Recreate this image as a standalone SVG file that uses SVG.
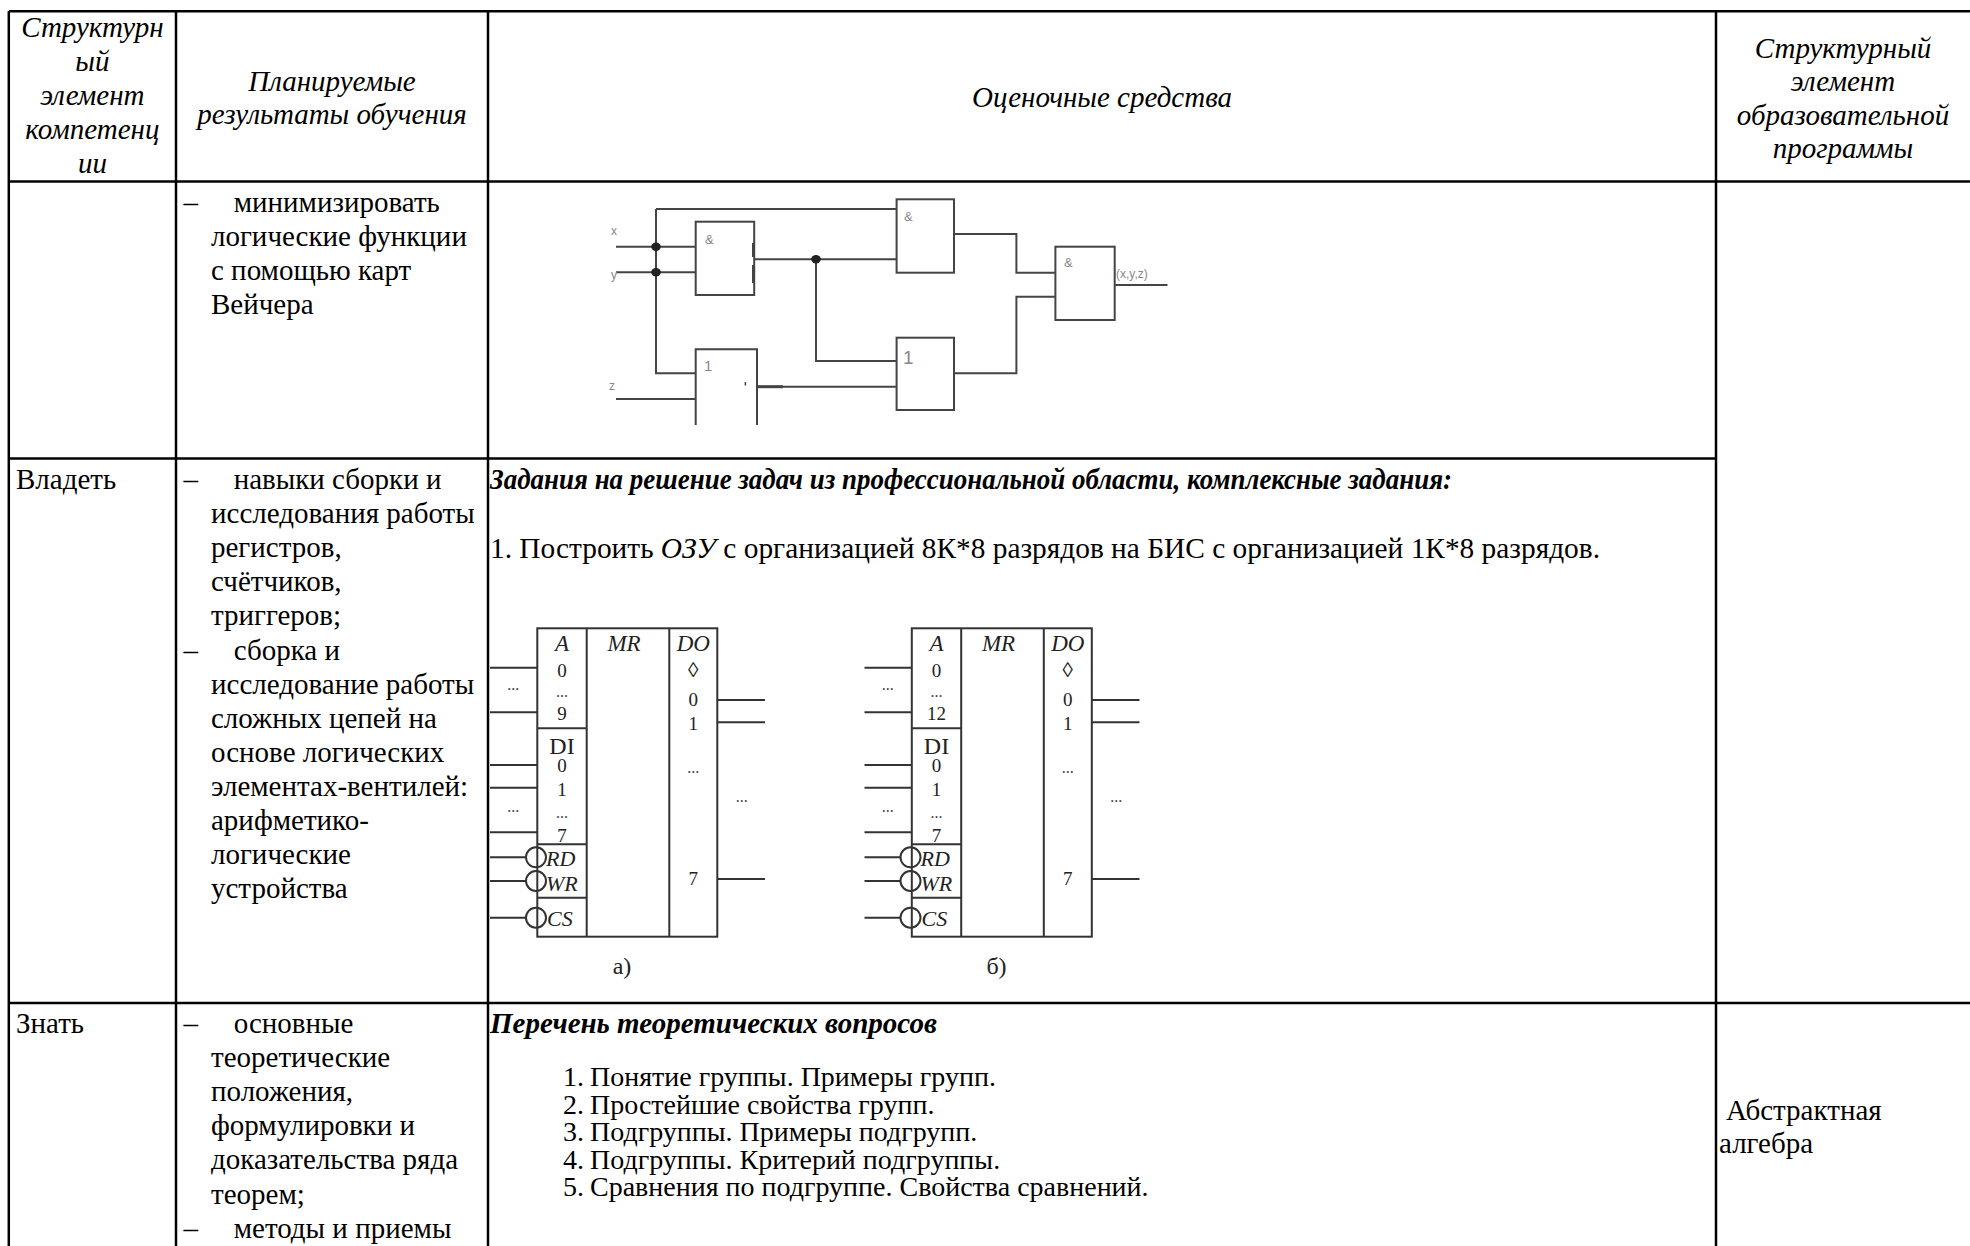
<svg xmlns="http://www.w3.org/2000/svg" width="1970" height="1246" viewBox="0 0 1970 1246">
<style>
.t{font-family:"Liberation Serif",serif;font-size:29px;fill:#000}
.i{font-style:italic}
.b{font-weight:bold}
.c{text-anchor:middle}
.li{font-size:28px}
.grid{stroke:#000;stroke-width:2.5;fill:none}
.w{stroke:#444;stroke-width:2;fill:none}
.lab{font-family:"Liberation Sans",sans-serif;fill:#888}
.ch{stroke:#333;stroke-width:2;fill:none}
.cs{font-family:"Liberation Serif",serif;fill:#222}
.d{font-size:19px}
.e{font-size:16px;fill:#444}
</style>
<rect width="1970" height="1246" fill="#fff"/>
<g id="table-grid" class="grid">
<line x1="8.8" y1="11.3" x2="1970" y2="11.3"/>
<line x1="8.8" y1="181.5" x2="1970" y2="181.5"/>
<line x1="8.8" y1="458.5" x2="1716" y2="458.5"/>
<line x1="8.8" y1="1003" x2="1970" y2="1003"/>
<line x1="8.8" y1="11.3" x2="8.8" y2="1246"/>
<line x1="176" y1="11.3" x2="176" y2="1246"/>
<line x1="488" y1="11.3" x2="488" y2="1246"/>
<line x1="1716" y1="11.3" x2="1716" y2="1246"/>
</g>
<g id="header">
<text class="t i c" x="92.4" y="37">Структурн</text>
<text class="t i c" x="92.4" y="71">ый</text>
<text class="t i c" x="92.4" y="105">элемент</text>
<text class="t i c" x="92.4" y="139">компетенц</text>
<text class="t i c" x="92.4" y="173">ии</text>
<text class="t i c" x="332" y="91">Планируемые</text>
<text class="t i c" x="332" y="124">результаты обучения</text>
<text class="t i c" x="1102" y="107">Оценочные средства</text>
<text class="t i c" x="1843" y="58">Структурный</text>
<text class="t i c" x="1843" y="91">элемент</text>
<text class="t i c" x="1843" y="124.5">образовательной</text>
<text class="t i c" x="1843" y="158">программы</text>
</g>
<g id="row-minimize">
<text class="t" x="183.5" y="212">–</text>
<text class="t" x="233.7" y="212">минимизировать</text>
<text class="t" x="211" y="246">логические функции</text>
<text class="t" x="211" y="280">с помощью карт</text>
<text class="t" x="211" y="314">Вейчера</text>
</g>
<g id="logic-diagram">
<g id="gates" class="w">
<rect x="695.7" y="221.7" width="58.5" height="73.3"/>
<rect x="896.6" y="199.3" width="57.4" height="73.4"/>
<rect x="1055.4" y="246.7" width="59.3" height="73.3"/>
<path d="M695.7 425V349.3H757V425"/>
<rect x="896.6" y="337.7" width="57.4" height="72.3"/>
</g>
<g id="wires" class="w">
<path d="M616 246.7H695.7"/>
<path d="M616 272.3H695.7"/>
<path d="M616 399H695.7"/>
<path d="M656 209V373.3H695.7"/>
<path d="M656 209H896.6"/>
<path d="M754.2 259.3H896.6"/>
<path d="M816 259.3V361H896.6"/>
<path d="M757 386.7H896.6"/>
<path d="M954 234H1016.4V272.7H1055.4"/>
<path d="M954 373.3H1016.4V296.7H1055.4"/>
<path d="M1114.7 285H1167.5"/>
<path d="M753.5 243V257M753.5 265V283" stroke-width="3"/>
<path d="M757 386.7H783" stroke-width="3"/>
<path d="M745.4 382V385.5" stroke-width="1.5"/>
</g>
<g fill="#222">
<ellipse cx="656" cy="246.7" rx="4.8" ry="4.2"/>
<ellipse cx="656" cy="272.3" rx="4.8" ry="4.2"/>
<ellipse cx="816" cy="259.3" rx="4.8" ry="4.2"/>
</g>
<text class="lab" x="611" y="235" font-size="12">x</text>
<text class="lab" x="611" y="279" font-size="12">y</text>
<text class="lab" x="609" y="390" font-size="12">z</text>
<text class="lab" x="705" y="244" font-size="13">&amp;</text>
<text class="lab" x="904" y="221" font-size="13">&amp;</text>
<text class="lab" x="1064" y="267" font-size="13">&amp;</text>
<text class="lab" x="704" y="371" font-size="15">1</text>
<text class="lab" x="903" y="364" font-size="19" fill="#444">1</text>
<text class="lab" x="1116" y="278" font-size="12">(x,y,z)</text>
</g>
<g id="row-own">
<text class="t" x="16" y="489">Владеть</text>
<text class="t" x="183.5" y="489">–</text>
<text class="t" x="233.7" y="489">навыки сборки и</text>
<text class="t" x="211" y="523.1">исследования работы</text>
<text class="t" x="211" y="557.2">регистров,</text>
<text class="t" x="211" y="591.3">счётчиков,</text>
<text class="t" x="211" y="625.4">триггеров;</text>
<text class="t" x="183.5" y="659.5">–</text>
<text class="t" x="233.7" y="659.5">сборка и</text>
<text class="t" x="211" y="693.6">исследование работы</text>
<text class="t" x="211" y="727.7">сложных цепей на</text>
<text class="t" x="211" y="761.8">основе логических</text>
<text class="t" x="211" y="795.9">элементах-вентилей:</text>
<text class="t" x="211" y="830">арифметико-</text>
<text class="t" x="211" y="864.1">логические</text>
<text class="t" x="211" y="898.2">устройства</text>
<text class="t i b" x="490" y="489" textLength="962" lengthAdjust="spacingAndGlyphs">Задания на решение задач из профессиональной области, комплексные задания:</text>
<text class="t" x="490" y="558" textLength="1110" lengthAdjust="spacingAndGlyphs">1. Построить <tspan class="i">ОЗУ</tspan> с организацией 8К*8 разрядов на БИС с организацией 1К*8 разрядов.</text>
</g>
<defs>
<g id="chip">
<rect class="ch" x="537.3" y="628.3" width="180" height="308.4"/>
<path class="ch" d="M586.7 628.3V936.7M669.3 628.3V936.7M537.3 728.3H586.7M537.3 844.3H586.7M537.3 897.7H586.7"/>
<path class="ch" d="M490 667.7H537.3M490 712.3H537.3M490 765H537.3M490 787.7H537.3M490 832.3H537.3M490 857.3H526M490 881H526M490 917.7H526M717.3 700H765M717.3 722.3H765M717.3 879H765"/>
<circle class="ch" cx="536" cy="857.3" r="10" fill="#fff"/>
<circle class="ch" cx="536" cy="881" r="10" fill="#fff"/>
<circle class="ch" cx="536" cy="917.7" r="10" fill="#fff"/>
<text class="cs c" x="562" y="651" font-size="23" font-style="italic">A</text>
<text class="cs c d" x="562" y="677">0</text>
<text class="cs c e" x="562" y="697">...</text>
<text class="cs c" x="562" y="754" font-size="24">DI</text>
<text class="cs c d" x="562" y="772">0</text>
<text class="cs c d" x="562" y="796">1</text>
<text class="cs c e" x="562" y="818">...</text>
<text class="cs c d" x="562" y="842">7</text>
<text class="cs" x="546" y="866" font-size="22" font-style="italic">RD</text>
<text class="cs" x="546" y="891" font-size="22" font-style="italic">WR</text>
<text class="cs" x="547" y="926" font-size="22" font-style="italic">CS</text>
<text class="cs c" x="624" y="651" font-size="23" font-style="italic">MR</text>
<text class="cs c" x="693.3" y="651" font-size="23" font-style="italic">DO</text>
<text class="cs c" x="693.3" y="677" font-size="21">◊</text>
<text class="cs c d" x="693.3" y="706">0</text>
<text class="cs c d" x="693.3" y="730">1</text>
<text class="cs c e" x="693.3" y="773">...</text>
<text class="cs c d" x="693.3" y="885">7</text>
<text class="cs c e" x="513.3" y="690">...</text>
<text class="cs c e" x="513.3" y="812">...</text>
<text class="cs c e" x="741.7" y="802">...</text>
</g>
</defs>
<g id="chip-a">
<use href="#chip"/>
<text class="cs c d" x="562" y="720">9</text>
<text class="cs c" x="622" y="974" font-size="24">а)</text>
</g>
<g id="chip-b" transform="translate(374.5,0)">
<use href="#chip"/>
<text class="cs c d" x="562" y="720">12</text>
<text class="cs c" x="622" y="974" font-size="24">б)</text>
</g>
<g id="row-know">
<text class="t" x="16" y="1033">Знать</text>
<text class="t" x="183.5" y="1033">–</text>
<text class="t" x="233.7" y="1033">основные</text>
<text class="t" x="211" y="1067.1">теоретические</text>
<text class="t" x="211" y="1101.2">положения,</text>
<text class="t" x="211" y="1135.3">формулировки и</text>
<text class="t" x="211" y="1169.4">доказательства ряда</text>
<text class="t" x="211" y="1203.5">теорем;</text>
<text class="t" x="183.5" y="1237.6">–</text>
<text class="t" x="233.7" y="1237.6">методы и приемы</text>
<text class="t i b" x="490" y="1033">Перечень теоретических вопросов</text>
<text class="t li" x="563" y="1086">1.</text>
<text class="t li" x="590" y="1086">Понятие группы. Примеры групп.</text>
<text class="t li" x="563" y="1113.6">2.</text>
<text class="t li" x="590" y="1113.6">Простейшие свойства групп.</text>
<text class="t li" x="563" y="1141.2">3.</text>
<text class="t li" x="590" y="1141.2">Подгруппы. Примеры подгрупп.</text>
<text class="t li" x="563" y="1168.8">4.</text>
<text class="t li" x="590" y="1168.8">Подгруппы. Критерий подгруппы.</text>
<text class="t li" x="563" y="1196.4">5.</text>
<text class="t li" x="590" y="1196.4">Сравнения по подгруппе. Свойства сравнений.</text>
<text class="t" x="1726" y="1120">Абстрактная</text>
<text class="t" x="1719" y="1153">алгебра</text>
</g>
</svg>
